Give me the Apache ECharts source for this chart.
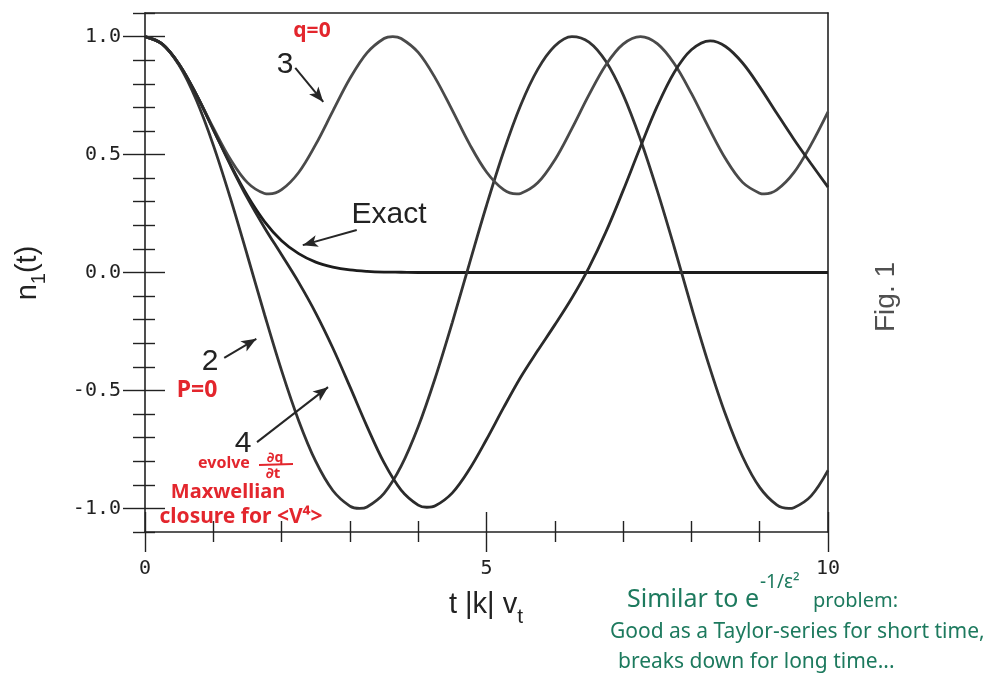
<!DOCTYPE html>
<html>
<head>
<meta charset="utf-8">
<script src="https://cdn.jsdelivr.net/npm/echarts@6/dist/echarts.min.js"></script>
<style>
  html, body { margin: 0; padding: 0; background: #ffffff; }
  #chart { width: 990px; height: 677px; }
</style>
</head>
<body>
<div id="chart"></div>
<script>
// Exact (kinetic) response: sample times and values
const exactT = [0, 0.25, 0.5, 0.75, 1, 1.25, 1.5, 1.75, 2, 2.25, 2.5, 2.75, 3, 3.25, 3.5, 3.75,
  4, 4.5, 5, 5.5, 6, 6.5, 7, 7.5, 8, 8.5, 9, 9.5, 10];
const exactValues = [1.000, 0.969, 0.882, 0.755, 0.607, 0.458, 0.325, 0.216, 0.135, 0.080, 0.044, 0.023,
  0.011, 0.005, 0.002, 0.001, 0.000, 0.000, 0.000, 0.000, 0.000, 0.000, 0.000, 0.000, 0.000, 0.000,
  0.000, 0.000, 0.000];

// 2-moment model (p = 0 note)
const model2T = [0, 0.25, 0.5, 0.75, 1, 1.25, 1.5, 1.75, 2, 2.25, 2.5, 2.75, 3, 3.142, 3.25, 3.5, 3.75,
  4, 4.25, 4.5, 4.75, 5, 5.25, 5.5, 5.75, 6, 6.25, 6.5, 6.75, 7, 7.25, 7.5, 7.75,
  8, 8.25, 8.5, 8.75, 9, 9.25, 9.425, 9.5, 9.75, 10];
const model2Values = [1.000, 0.969, 0.878, 0.732, 0.540, 0.315, 0.071, -0.178, -0.416, -0.628, -0.801, -0.924,
  -0.990, -1.000, -0.994, -0.936, -0.821, -0.654, -0.446, -0.211, 0.038, 0.284, 0.512, 0.709, 0.861, 0.960, 1.000,
  0.977, 0.894, 0.754, 0.567, 0.347, 0.106, -0.146, -0.386, -0.602, -0.781, -0.911, -0.985, -1.000, -0.997, -0.948, -0.839];

// 3-moment model (q = 0)
const model3T = [0, 0.25, 0.5, 0.75, 1, 1.25, 1.5, 1.75, 1.814, 2, 2.25, 2.5, 2.75, 3, 3.25, 3.5, 3.628, 3.75,
  4, 4.25, 4.5, 4.75, 5, 5.25, 5.441, 5.5, 5.75, 6, 6.25, 6.5, 6.75, 7, 7.255, 7.5, 7.75,
  8, 8.25, 8.5, 8.75, 9, 9.069, 9.25, 9.5, 9.75, 10];
const model3Values = [1.000, 0.969, 0.883, 0.756, 0.613, 0.480, 0.381, 0.335, 0.333, 0.351, 0.424, 0.543, 0.684,
  0.822, 0.931, 0.992, 1.000, 0.992, 0.933, 0.824, 0.687, 0.545, 0.426, 0.351, 0.333, 0.335, 0.380, 0.477, 0.610,
  0.753, 0.881, 0.968, 1.000, 0.970, 0.885, 0.759, 0.616, 0.482, 0.382, 0.336, 0.333, 0.350, 0.423, 0.541, 0.681];

// 4-moment model (Maxwellian closure for <v^4>)
const model4T = [0, 0.25, 0.5, 0.75, 1, 1.25, 1.5, 1.75, 2, 2.25, 2.5, 2.75, 3, 3.25, 3.5, 3.75,
  4, 4.125, 4.25, 4.5, 4.75, 5, 5.25, 5.5, 5.75, 6, 6.25, 6.5, 6.75, 7, 7.25, 7.5, 7.75,
  8, 8.275, 8.5, 8.75, 9, 9.25, 9.5, 9.75, 10];
const model4Values = [1.000, 0.969, 0.883, 0.755, 0.606, 0.456, 0.315, 0.190, 0.075, -0.042, -0.172, -0.320,
  -0.484, -0.652, -0.806, -0.922, -0.986, -0.995, -0.989, -0.934, -0.834, -0.708, -0.573, -0.444, -0.331, -0.222,
  -0.108, 0.021, 0.173, 0.347, 0.530, 0.705, 0.849, 0.944, 0.982, 0.958, 0.888, 0.787, 0.675, 0.565, 0.462, 0.362];

// Tick positions
const xMajorTicks = [0, 5, 10];
const xMinorTicks = [1, 2, 3, 4, 6, 7, 8, 9];
const yMajorTicks = [-1, -0.5, 0, 0.5, 1];
const yMinorTicks = [-1.1, -0.9, -0.8, -0.7, -0.6, -0.4, -0.3, -0.2, -0.1,
  0.1, 0.2, 0.3, 0.4, 0.6, 0.7, 0.8, 0.9, 1.1];

// Pointer arrows (from, to) in data coordinates
const arrowSegments = [
  [[2.20, 0.867], [2.61, 0.723]],   // "3"
  [[3.10, 0.180], [2.31, 0.116]],   // "Exact"
  [[1.16, -0.362], [1.63, -0.281]], // "2"
  [[1.64, -0.719], [2.68, -0.486]]  // "4"
];

const INK = '#222222';
const RED = '#e3262d';
const GREEN = '#1d7a5e';
const SANS = '"Liberation Sans", Arial, Helvetica, sans-serif';
const MONO = '"DejaVu Sans Mono", "Liberation Mono", monospace';
const HAND = '"Noto Sans", "DejaVu Sans", sans-serif';

const pairs = (ts, vals) => ts.map((t, i) => [t, vals[i]]);

const frameLine = { show: true, onZero: false, lineStyle: { color: INK, width: 1.6 } };
const tickLine = { color: INK, width: 1.4 };

function xAxisDef(extra) {
  return Object.assign({
    type: 'value', min: 0, max: 10, gridIndex: 0, position: 'bottom',
    axisLine: { show: false, onZero: false },
    axisTick: { show: false },
    axisLabel: { show: false },
    splitLine: { show: false }
  }, extra);
}
function yAxisDef(extra) {
  return Object.assign({
    type: 'value', min: -1.1, max: 1.1, gridIndex: 0, position: 'left',
    axisLine: { show: false, onZero: false },
    axisTick: { show: false },
    axisLabel: { show: false },
    splitLine: { show: false }
  }, extra);
}

function note(x, y, text, size, color, extra) {
  return {
    type: 'text', x: x, y: y,
    style: Object.assign({
      text: text, fontFamily: HAND, fontSize: size, fill: color,
      textAlign: 'center', textVerticalAlign: 'middle'
    }, extra || {})
  };
}

const chart = echarts.init(document.getElementById('chart'), null, { renderer: 'canvas' });

const option = {
  animation: false,
  backgroundColor: '#ffffff',
  grid: { left: 145, top: 13, width: 683, height: 519, containLabel: false },
  xAxis: [
    xAxisDef({
      axisLine: frameLine,
      axisTick: { show: true, customValues: xMajorTicks, length: 20, inside: false, lineStyle: tickLine },
      axisLabel: {
        show: true, customValues: xMajorTicks, margin: 27,
        fontFamily: MONO, fontSize: 20, color: INK,
        formatter: v => String(Math.round(v))
      },
      // main text, lowered subscript, and an empty strut that sets the line height
      name: '{a|t |k| v}{s|t}{z| }',
      nameLocation: 'middle',
      nameGap: 58,
      nameTextStyle: {
        rich: {
          a: { fontFamily: SANS, fontSize: 29, color: INK, lineHeight: 30, verticalAlign: 'top' },
          s: { fontFamily: SANS, fontSize: 21, color: INK, lineHeight: 20, verticalAlign: 'bottom' },
          z: { fontSize: 4, lineHeight: 38, width: 1 }
        }
      }
    }),
    xAxisDef({ axisTick: { show: true, customValues: xMajorTicks, length: 20, inside: true, lineStyle: tickLine } }),
    xAxisDef({ axisTick: { show: true, customValues: xMinorTicks, length: 10, inside: false, lineStyle: tickLine } }),
    xAxisDef({ axisTick: { show: true, customValues: xMinorTicks, length: 11, inside: true, lineStyle: tickLine } }),
    xAxisDef({ position: 'top', axisLine: frameLine })
  ],
  yAxis: [
    yAxisDef({
      axisLine: frameLine,
      axisTick: { show: true, customValues: yMajorTicks, length: 22, inside: false, lineStyle: tickLine },
      axisLabel: {
        show: true, customValues: yMajorTicks, margin: 24,
        fontFamily: MONO, fontSize: 20, color: INK,
        formatter: v => v.toFixed(1)
      },
      name: '{a|n}{s|1}{a|(t)}{z| }',
      nameLocation: 'middle',
      nameRotate: 90,
      nameGap: 96,
      nameTextStyle: {
        rich: {
          a: { fontFamily: SANS, fontSize: 29, color: INK, lineHeight: 32, verticalAlign: 'top' },
          s: { fontFamily: SANS, fontSize: 20, color: INK, lineHeight: 20, verticalAlign: 'bottom' },
          z: { fontSize: 4, lineHeight: 36, width: 1 }
        }
      }
    }),
    yAxisDef({ axisTick: { show: true, customValues: yMajorTicks, length: 20, inside: true, lineStyle: tickLine } }),
    yAxisDef({ axisTick: { show: true, customValues: yMinorTicks, length: 12, inside: false, lineStyle: tickLine } }),
    yAxisDef({ axisTick: { show: true, customValues: yMinorTicks, length: 10, inside: true, lineStyle: tickLine } }),
    yAxisDef({ position: 'right', axisLine: frameLine })
  ],
  series: [
    {
      name: 'Exact', type: 'line', xAxisIndex: 0, yAxisIndex: 0,
      data: pairs(exactT, exactValues), showSymbol: false, smooth: 0.35,
      lineStyle: { color: '#1c1c1c', width: 2.8 },
      markLine: {
        silent: true,
        symbol: ['none', 'arrow'],
        symbolSize: [9, 15],
        label: { show: false },
        lineStyle: { color: '#262626', width: 2, type: 'solid' },
        emphasis: { disabled: true },
        data: arrowSegments.map(s => [{ coord: s[0] }, { coord: s[1] }])
      }
    },
    {
      name: '2', type: 'line', xAxisIndex: 0, yAxisIndex: 0,
      data: pairs(model2T, model2Values), showSymbol: false, smooth: 0.35,
      lineStyle: { color: '#333333', width: 2.8 }
    },
    {
      name: '3', type: 'line', xAxisIndex: 0, yAxisIndex: 0,
      data: pairs(model3T, model3Values), showSymbol: false, smooth: 0.35,
      lineStyle: { color: '#4a4a4a', width: 2.8 }
    },
    {
      name: '4', type: 'line', xAxisIndex: 0, yAxisIndex: 0,
      data: pairs(model4T, model4Values), showSymbol: false, smooth: 0.35,
      lineStyle: { color: '#2a2a2a', width: 2.8 }
    }
  ],
  graphic: [
    // curve labels
    note(389, 215, 'Exact', 30, INK, { fontFamily: SANS }),
    note(285, 65, '3', 30, INK, { fontFamily: SANS }),
    note(210, 362, '2', 30, INK, { fontFamily: SANS }),
    note(243, 444, '4', 30, INK, { fontFamily: SANS }),
    // figure tag
    { type: 'text', x: 886, y: 297, rotation: Math.PI / 2,
      style: { text: 'Fig. 1', fontFamily: SANS, fontSize: 28, fill: '#505050', textAlign: 'center', textVerticalAlign: 'middle' } },
    // red notes
    note(312, 31, 'q=0', 21, RED, { fontWeight: 'bold' }),
    note(197, 390, 'P=0', 23, RED, { fontWeight: 'bold' }),
    note(224, 463, 'evolve', 16, RED, { fontWeight: 'bold' }),
    note(275, 458, '∂q', 14, RED, { fontWeight: 'bold' }),
    { type: 'line', shape: { x1: 259, y1: 465, x2: 293, y2: 464 }, style: { stroke: RED, lineWidth: 2 } },
    note(273, 474, '∂t', 15, RED, { fontWeight: 'bold' }),
    note(228, 492, 'Maxwellian', 20, RED, { fontWeight: 'bold' }),
    note(241, 517, 'closure for <V⁴>', 21, RED, { fontWeight: 'bold' }),
    // green notes
    note(627, 600, 'Similar to e', 25, GREEN, { textAlign: 'left' }),
    note(760, 583, '-1/ε²', 19, GREEN, { textAlign: 'left' }),
    note(813, 601, 'problem:', 20, GREEN, { textAlign: 'left' }),
    note(610, 632, 'Good as a Taylor-series for short time,', 21, GREEN, { textAlign: 'left' }),
    note(618, 662, 'breaks down for long time...', 21, GREEN, { textAlign: 'left' })
  ]
};

chart.setOption(option);
</script>
</body>
</html>
